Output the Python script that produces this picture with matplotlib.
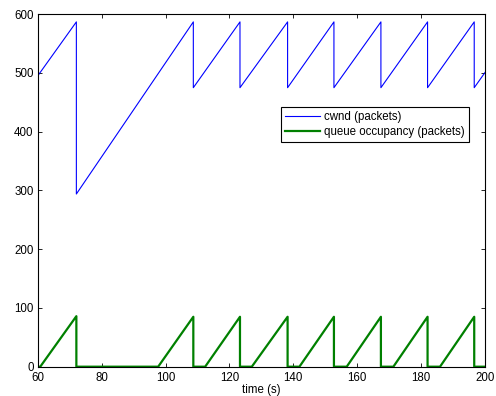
import matplotlib
matplotlib.use('Agg')
import matplotlib.pyplot as plt

# breakpoints (time in s, packets)
cwnd_t = [60, 72.1, 72.1, 108.7, 108.7, 123.3, 123.3, 138.2, 138.2,
          152.7, 152.7, 167.4, 167.4, 182.0, 182.0, 196.6, 196.6, 200]
cwnd_v = [495, 587, 294, 587, 475, 587, 475, 587, 475,
          587, 475, 587, 475, 587, 475, 587, 475, 501]

queue_t = [60, 60.8, 72.1, 72.1, 97.7, 108.7, 108.7, 112.4, 123.3, 123.3,
           127.0, 138.2, 138.2, 141.9, 152.7, 152.7, 156.7, 167.4, 167.4,
           171.3, 182.0, 182.0, 185.9, 196.6, 196.6, 200]
queue_v = [0, 0, 86, 0, 0, 85, 0, 0, 85, 0,
           0, 85, 0, 0, 85, 0, 0, 85, 0,
           0, 85, 0, 0, 85, 0, 0]

x_ticks = [60, 80, 100, 120, 140, 160, 180, 200]
y_ticks = [0, 100, 200, 300, 400, 500, 600]

plt.rcParams['font.family'] = ['Liberation Sans', 'DejaVu Sans']
plt.rcParams['font.size'] = 8.3

fig = plt.figure(figsize=(4.96, 3.96), dpi=100)
ax = fig.add_axes([0.076, 0.074, 0.902, 0.890])

ax.plot(cwnd_t, cwnd_v, color='#0000ff', lw=0.8, label='cwnd (packets)')
ax.plot(queue_t, queue_v, color='#008000', lw=1.6, label='queue occupancy (packets)')

ax.set_xlim(60, 200)
ax.set_ylim(0, 600)
ax.set_xticks(x_ticks)
ax.set_yticks(y_ticks)
ax.tick_params(direction='in', top=True, right=True, length=3, width=0.6)
ax.tick_params(axis='x', pad=4)
ax.tick_params(axis='y', pad=3)
for s in ax.spines.values():
    s.set_linewidth(0.8)
ax.set_xlabel('time (s)', labelpad=0)

leg = ax.legend(loc='upper right', bbox_to_anchor=(0.964, 0.736), fancybox=False,
                framealpha=1, edgecolor='black', handlelength=3.0, borderpad=0.35,
                labelspacing=0.2, handletextpad=0.4, borderaxespad=0)
leg.get_frame().set_linewidth(0.8)

fig.savefig('out.png', dpi=100)
